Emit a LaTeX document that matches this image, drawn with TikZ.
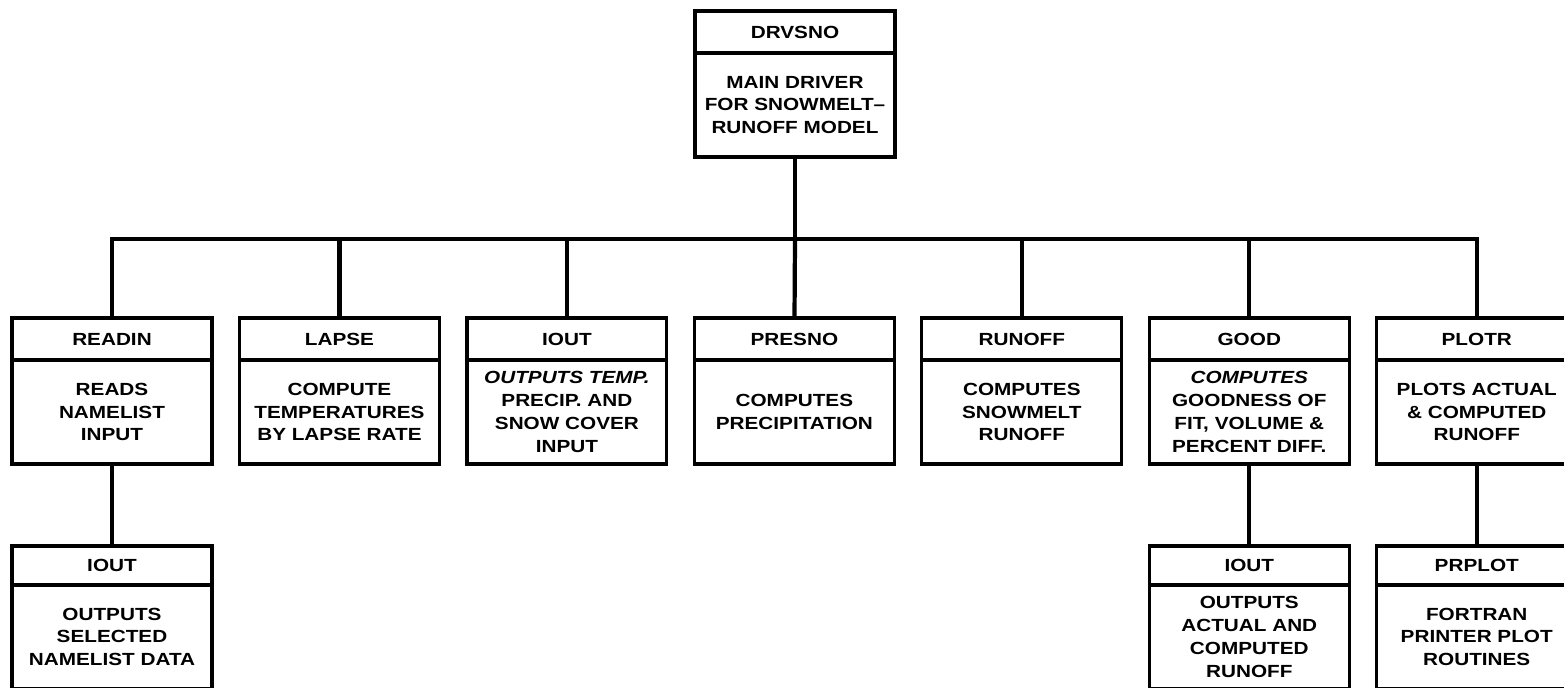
\documentclass[tikz,border=0pt]{standalone}
\usepackage{fontspec}
\newfontfamily\modfamily[FakeStretch=1.18, Ligatures=TeX]{Liberation Sans}
\usepackage{tikz}
\usetikzlibrary{positioning}
\newcommand{\modfont}{\modfamily\fontsize{10}{13}\selectfont\bfseries}
\tikzstyle{head} = [rectangle, minimum width=4cm, minimum height=0.84cm, inner sep=0pt, outer sep=0pt, text centered, draw=black, line width=1.8pt, font=\modfont]
\tikzstyle{body} = [rectangle, minimum width=4cm, minimum height=2.08cm, inner sep=0pt, outer sep=0pt, align=center, draw=black, line width=1.8pt, font=\modfont]
\tikzstyle{link} = [line width=2.4pt]

\begin{document}
\begin{tikzpicture}[x=0.02cm, y=-0.02cm, node distance=4.55cm]
    \clip (0,0) rectangle (1564,688);
    % main driver
    \node (drvsno) [head] at (795,32) {DRVSNO};
    \node (drvsnob) [body, below=0pt of drvsno] {MAIN DRIVER\\FOR SNOWMELT--\\RUNOFF MODEL};
    % first level
    \node (readin) [head] at (112,339) {READIN};
    \node (lapse) [head, right of=readin] {LAPSE};
    \node (iout) [head, right of=lapse] {IOUT};
    \node (presno) [head, right of=iout] {PRESNO};
    \node (runoff) [head, right of=presno] {RUNOFF};
    \node (good) [head, right of=runoff] {GOOD};
    \node (plotr) [head, right of=good] {PLOTR};
    \node (readinb) [body, below=0pt of readin] {READS\\NAMELIST\\INPUT};
    \node (lapseb) [body, below=0pt of lapse] {COMPUTE\\TEMPERATURES\\BY LAPSE RATE};
    \node (ioutb) [body, below=0pt of iout] {\itshape OUTPUTS TEMP.\\PRECIP. AND\\SNOW COVER\\INPUT};
    \node (presnob) [body, below=0pt of presno] {COMPUTES\\PRECIPITATION};
    \node (runoffb) [body, below=0pt of runoff] {COMPUTES\\SNOWMELT\\RUNOFF};
    \node (goodb) [body, below=0pt of good] {\itshape COMPUTES\\GOODNESS OF\\FIT, VOLUME \&\\PERCENT DIFF.};
    \node (plotrb) [body, below=0pt of plotr] {PLOTS ACTUAL\\\& COMPUTED\\RUNOFF};
    % second level
    \node (ioutr) [head, minimum height=0.78cm, below=1.64cm of readinb] {IOUT};
    \node (ioutrb) [body, below=0pt of ioutr] {OUTPUTS\\SELECTED\\NAMELIST DATA};
    \node (ioutg) [head, minimum height=0.78cm, below=1.64cm of goodb] {IOUT};
    \node (ioutgb) [body, below=0pt of ioutg] {OUTPUTS\\ACTUAL AND\\COMPUTED\\RUNOFF};
    \node (prplot) [head, minimum height=0.78cm, below=1.64cm of plotrb] {PRPLOT};
    \node (prplotb) [body, below=0pt of prplot] {FORTRAN\\PRINTER PLOT\\ROUTINES};
    % connectors
    \coordinate (bus) at (795,239);
    \draw [link] (drvsnob) -- (bus);
    \draw [link] (bus) -| (readin);
    \draw [link] (bus) -| (lapse);
    \draw [link] (bus) -| (iout);
    \draw [link] (bus) -- (presno);
    \draw [link] (bus) -| (runoff);
    \draw [link] (bus) -| (good);
    \draw [link] (bus) -| (plotr);
    \draw [link] (readinb) -- (ioutr);
    \draw [link] (goodb) -- (ioutg);
    \draw [link] (plotrb) -- (prplot);
\end{tikzpicture}
\end{document}
